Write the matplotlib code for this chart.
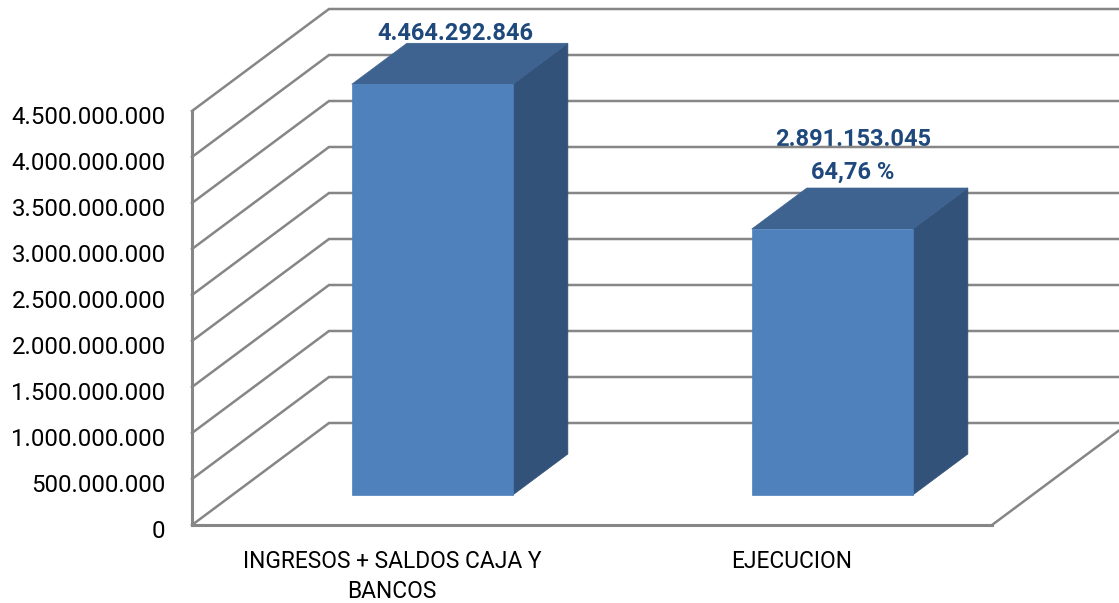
import matplotlib
matplotlib.use("Agg")
import matplotlib.pyplot as plt
from matplotlib.patches import Polygon
from matplotlib.ticker import FuncFormatter
from matplotlib.transforms import ScaledTranslation

categories = ["INGRESOS + SALDOS CAJA Y\nBANCOS", "EJECUCION"]
values = [4464292846, 2891153045]
value_labels = ["4.464.292.846", "2.891.153.045\n64,76 %"]
y_ticks = [0, 500000000, 1000000000, 1500000000, 2000000000,
           2500000000, 3000000000, 3500000000, 4000000000, 4500000000]

W, H = 1119, 603
plt.rcParams['font.family'] = ['Roboto', 'DejaVu Sans']

fig = plt.figure(figsize=(W / 100, H / 100), dpi=100)
# axes = front plane of the fake 3d box
ax = fig.add_axes([192 / W, 1 - 525 / H, 800 / W, 414 / H])
ax.set_xlim(0, 2)
ax.set_ylim(0, 4500000000)
ax.patch.set_visible(False)

# depth 1 = back wall, in data units
DX = 137 / 400
DY = 102 / 46 * 500000000


def proj(x, y, d):
    return (x + DX * d, y + DY * d)


grid = '#868686'
lw = 1.8

# side wall + back wall lines
for t in y_ticks:
    ax.plot(*zip(proj(0, t, 0), proj(0, t, 1), proj(2, t, 1)), color=grid, lw=lw,
            zorder=3, clip_on=False, solid_joinstyle='miter')
# floor right edge
ax.plot(*zip(proj(2, 0, 0), proj(2, 0, 1)), color=grid, lw=lw, zorder=3, clip_on=False)

# bars
width = 161 / 400
d0, d1 = 30 / 102, 71 / 102
for i, v in enumerate(values):
    x0, x1 = i + 0.5 - width / 2, i + 0.5 + width / 2
    front = [proj(x0, 0, d0), proj(x1, 0, d0), proj(x1, v, d0), proj(x0, v, d0)]
    side = [proj(x1, 0, d0), proj(x1, 0, d1), proj(x1, v, d1), proj(x1, v, d0)]
    top = [proj(x0, v, d0), proj(x1, v, d0), proj(x1, v, d1), proj(x0, v, d1)]
    ax.add_patch(Polygon(side, fc='#325279', ec='#325279', lw=0.5, zorder=4, clip_on=False))
    ax.add_patch(Polygon(top, fc='#3E6390', ec='#3E6390', lw=0.5, zorder=4, clip_on=False))
    ax.add_patch(Polygon(front, fc='#4F81BD', ec='#4F81BD', lw=0.5, zorder=5, clip_on=False))
    # label sits over the middle of the top face
    lx = proj(i + 0.5, v, (d0 + d1) / 2)[0]
    ly = proj(i + 0.5, v, d1)[1]
    off = (-3, -1.5) if i == 0 else (-5, 3)
    ax.annotate(value_labels[i], (lx, ly), xytext=off, textcoords='offset points',
                ha='center', va='bottom', fontsize=17, fontweight='bold',
                color='#1F497D', linespacing=1.55, zorder=2, annotation_clip=False)

for s in ['top', 'right']:
    ax.spines[s].set_visible(False)
for s in ['left', 'bottom']:
    ax.spines[s].set_color(grid)
    ax.spines[s].set_linewidth(lw + 0.4)
    ax.spines[s].set_zorder(3)

ax.set_yticks(y_ticks)
ax.yaxis.set_major_formatter(FuncFormatter(lambda v, p: f"{int(v):,}".replace(",", ".")))
ax.set_xticks([0.5, 1.5])
ax.set_xticklabels(categories, linespacing=1.38)
ax.tick_params(axis='y', length=0, pad=19, labelsize=17.3, labelcolor='black')
ax.tick_params(axis='x', length=0, pad=18, labelsize=16.4, labelcolor='black')

# y labels sit a little under their gridline
shift = ScaledTranslation(0, -3 / 72, fig.dpi_scale_trans)
for lab in ax.get_yticklabels():
    lab.set_transform(lab.get_transform() + shift)

fig.savefig('out.png', dpi=100)
